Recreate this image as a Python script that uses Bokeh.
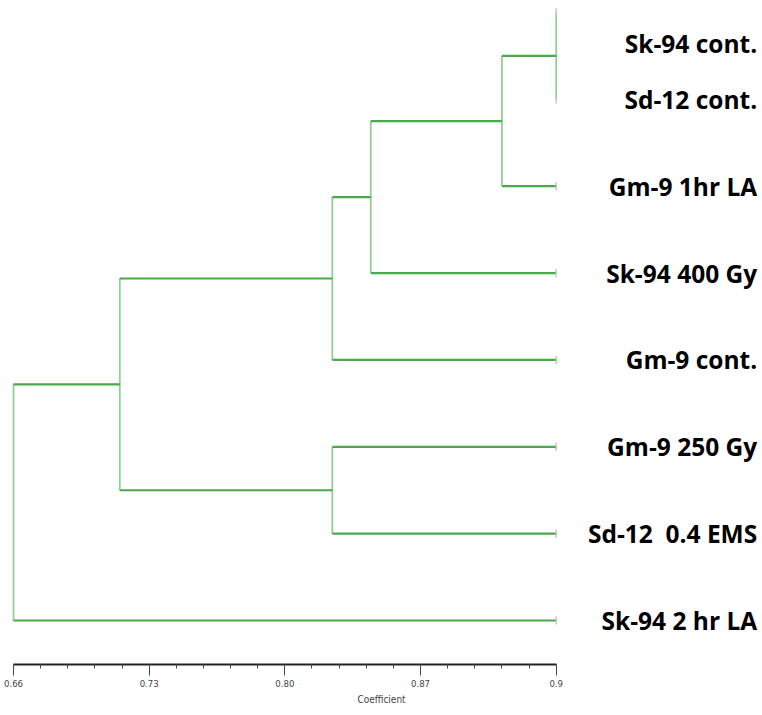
import numpy as np
from bokeh.plotting import figure
from bokeh.models import Range1d, FixedTicker, ColumnDataSource
from bokeh.core.properties import value
from bokeh.embed import file_html
from bokeh.resources import INLINE

# Leaves of the dendrogram, top to bottom
leaf_labels = [
    "Sk-94 cont.",
    "Sd-12 cont.",
    "Gm-9 1hr LA",
    "Sk-94 400 Gy",
    "Gm-9 cont.",
    "Gm-9 250 Gy",
    "Sd-12\u00a0 0.4 EMS",
    "Sk-94 2 hr LA",
]

# Agglomeration steps: clusters a and b join at similarity coefficient c.
# New clusters are numbered after the leaves (8, 9, ...).
merge_a = [0, 8, 9, 10, 5, 11, 13]
merge_b = [1, 2, 3, 4, 6, 12, 7]
merge_coef = [0.900, 0.876, 0.818, 0.801, 0.801, 0.707, 0.660]

# Coefficient axis
tick_values = [0.66, 0.72, 0.78, 0.84, 0.90]
tick_labels = ["0.66", "0.73", "0.80", "0.87", "0.9"]

leaf_level = tick_values[-1]

# ---- build the tree segments -------------------------------------------
n = len(leaf_labels)
node_x = [leaf_level] * n
node_y = [float(i) for i in range(n)]
vx0, vy0, vx1, vy1 = [], [], [], []
hx0, hy0, hx1, hy1 = [], [], [], []
for a, b, c in zip(merge_a, merge_b, merge_coef):
    # vertical connector
    vx0.append(c); vy0.append(node_y[a]); vx1.append(c); vy1.append(node_y[b])
    # horizontal arms to each child
    for ch in (a, b):
        hx0.append(c); hy0.append(node_y[ch]); hx1.append(node_x[ch]); hy1.append(node_y[ch])
    node_x.append(c)
    node_y.append((node_y[a] + node_y[b]) / 2)

# ---- figure ---------------------------------------------------------------
px_per_unit = 542.7 / (tick_values[-1] - tick_values[0])
x_start = tick_values[0] - 13 / px_per_unit
x_end = tick_values[0] + (762 - 13) / px_per_unit
row_px = 86.86
y_top = -12 / row_px
y_bottom = (664 - 12) / row_px

p = figure(
    width=762, height=715,
    x_range=Range1d(x_start, x_end),
    y_range=Range1d(y_bottom, y_top),
    output_backend="svg", toolbar_location=None,
    y_axis_location=None, min_border=0,
)
p.min_border_bottom = 51
p.outline_line_color = None
p.grid.visible = False
p.background_fill_color = "white"
p.border_fill_color = "white"

p.segment(x0=vx0, y0=vy0, x1=vx1, y1=vy1, line_color="#93cf93", line_width=1.8)
p.segment(x0=hx0, y0=hy0, x1=hx1, y1=hy1, line_color="#4aa94a", line_width=2.2)

# small marks at the leaf tips
p.scatter(x=[leaf_level] * n, y=list(range(n)), marker="dash", angle=np.pi / 2,
          size=8, line_color="#c4c4c4", line_width=1.5)

# leaf names, right aligned; the first one is nudged down to stay on the page
shift = [31] + [0] * (n - 1)
src = ColumnDataSource(dict(x=[leaf_level] * n, y=list(range(n)), t=leaf_labels, dy=shift))
p.text(x="x", y="y", text="t", source=src, x_offset=201, y_offset="dy",
       text_align="right", text_baseline="middle",
       text_font=value("Open Sans"), text_font_style="bold", text_font_size="24.5px",
       text_color="black")

# axis
minor = [round(v, 3) for v in np.linspace(tick_values[0], tick_values[-1], 21)
         if all(abs(v - t) > 1e-6 for t in tick_values)]
narrow = "'DejaVu Sans Condensed', 'Liberation Sans', sans-serif"
ax = p.xaxis[0]
ax.ticker = FixedTicker(ticks=tick_values, minor_ticks=minor)
ax.bounds = (tick_values[0], tick_values[-1])
ax.major_label_overrides = {t: l for t, l in zip(tick_values, tick_labels)}
ax.axis_line_color = "#222222"
ax.axis_line_width = 2
ax.major_tick_in = 0
ax.major_tick_out = 11
ax.minor_tick_in = 0
ax.minor_tick_out = 4
ax.major_tick_line_color = "#444444"
ax.minor_tick_line_color = "#444444"
ax.major_label_standoff = 4
ax.major_label_text_font = narrow
ax.major_label_text_font_size = "9.5px"
ax.major_label_text_color = "#444444"
ax.axis_label = "Coefficient"
ax.axis_label_standoff = 4
ax.axis_label_text_font = narrow
ax.axis_label_text_font_size = "10px"
ax.axis_label_text_font_style = "normal"
ax.axis_label_text_color = "#444444"

open("out.html", "w").write(file_html(p, INLINE))
